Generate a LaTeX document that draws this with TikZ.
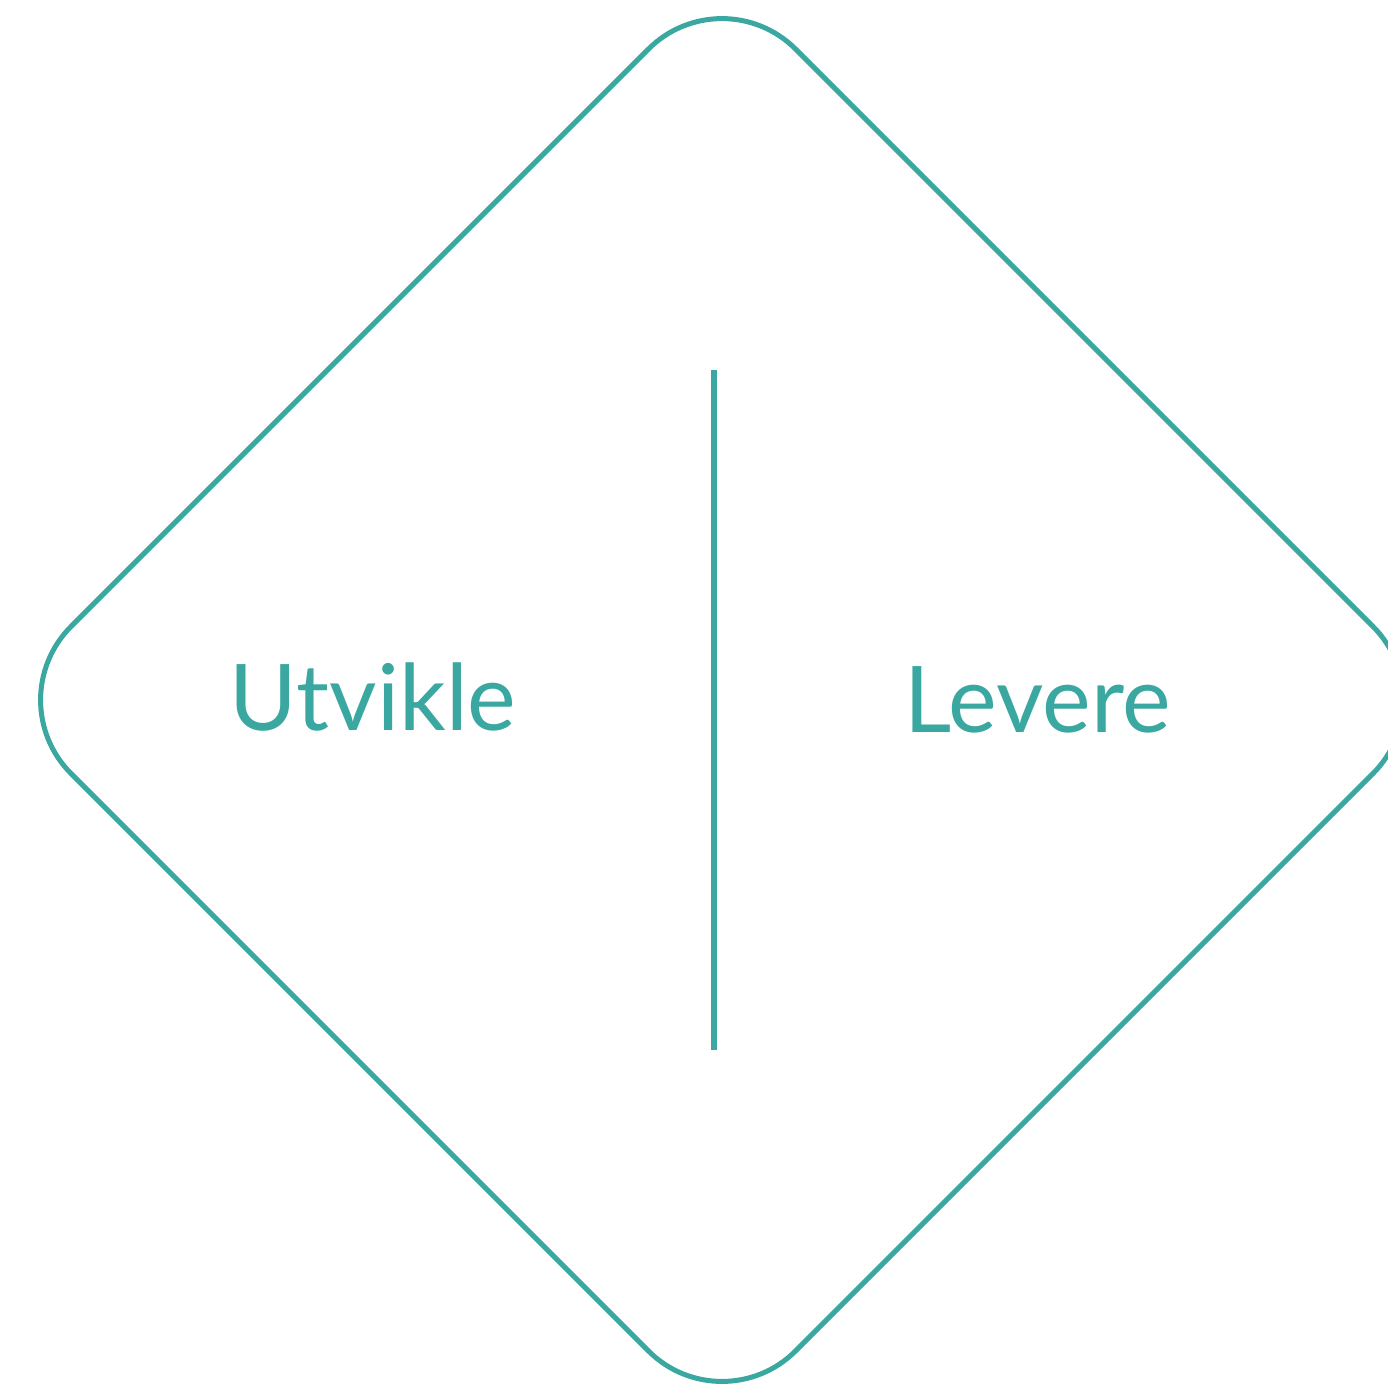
\documentclass[tikz,border=0pt]{standalone}
\usepackage{fontspec}
\setmainfont{Lato}
\definecolor{petrol}{RGB}{58,168,160}
\tikzstyle{frame} = [draw=petrol, line width=2.5pt, rounded corners=52pt]
\tikzstyle{divider} = [draw=petrol, line width=3.4pt]
\tikzstyle{phase} = [text=petrol, anchor=base, inner sep=0pt, font=\fontsize{46}{50}\selectfont]

\begin{document}
\begin{tikzpicture}[x=0.5pt, y=-0.5pt]
	\useasboundingbox (0,0) rectangle (1388,1389);
	% rounded diamond
	\draw[frame] (722,-24.5) -- (1446.5,700) -- (722,1424.5) -- (-2.5,700) -- cycle;
	% divider between the two halves
	\coordinate (top) at (714,370);
	\coordinate (bottom) at (714,1050);
	\draw[divider] (top) -- (bottom);
	\node[phase] (utvikle) at (373,730) {Utvikle};
	\node[phase] (levere) at (1038,732) {Levere};
\end{tikzpicture}
\end{document}
